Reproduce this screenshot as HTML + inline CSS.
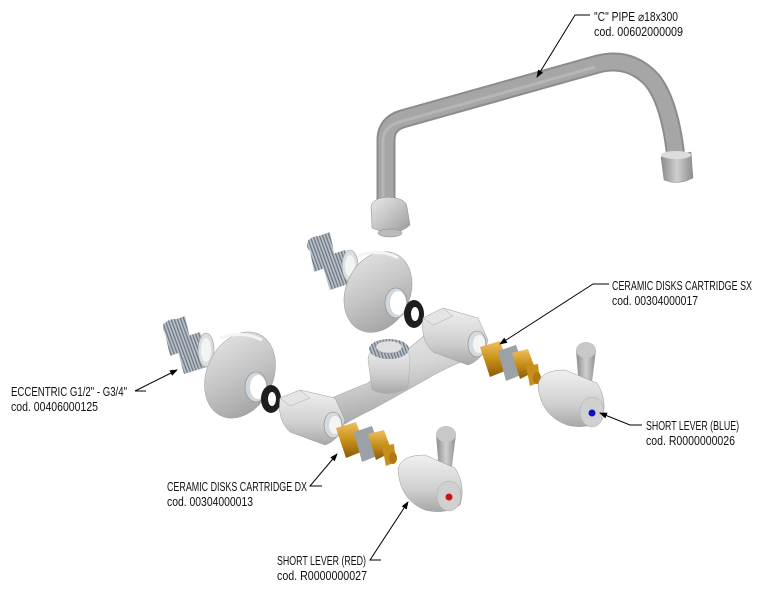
<!DOCTYPE html>
<html><head><meta charset="utf-8"><style>
html,body{margin:0;padding:0;background:#fff;}
svg{display:block}
text{font-family:"Liberation Sans",sans-serif;font-size:12.5px;fill:#111;}
</style></head><body>
<svg width="762" height="590" viewBox="0 0 762 590" xmlns="http://www.w3.org/2000/svg">
<defs>
<linearGradient id="pipeG" x1="0" y1="0" x2="1" y2="0">
<stop offset="0" stop-color="#8a8a8a"/><stop offset=".5" stop-color="#cfcfcf"/><stop offset="1" stop-color="#8e8e8e"/></linearGradient>
<linearGradient id="metal" x1="0" y1="0" x2="1" y2="1">
<stop offset="0" stop-color="#e8e8e8"/><stop offset=".5" stop-color="#c4c4c4"/><stop offset="1" stop-color="#9a9a9a"/></linearGradient>
<linearGradient id="body" x1="0" y1="0" x2="0" y2="1">
<stop offset="0" stop-color="#f0f0f0"/><stop offset=".6" stop-color="#d0d0d0"/><stop offset="1" stop-color="#a8a8a8"/></linearGradient>
<linearGradient id="bar" x1="0" y1="0" x2="0.3" y2="1">
<stop offset="0" stop-color="#eeeeee"/><stop offset=".5" stop-color="#d6d6d6"/><stop offset="1" stop-color="#a0a0a0"/></linearGradient>
<linearGradient id="brass" x1="0" y1="0" x2="0" y2="1">
<stop offset="0" stop-color="#f0c060"/><stop offset=".5" stop-color="#c8901a"/><stop offset="1" stop-color="#8a5a08"/></linearGradient>
<pattern id="thr" width="3" height="3" patternUnits="userSpaceOnUse" patternTransform="rotate(-20)">
<rect width="3" height="3" fill="#b8c0c8"/><rect width="1.2" height="3" fill="#6a7480"/></pattern>
<marker id="ar" markerWidth="8" markerHeight="6" refX="7" refY="3" orient="auto"><path d="M0,0 L8,3 L0,6z" fill="#000"/></marker>
</defs>

<!-- Pipe -->
<path d="M386,205 L386,140 Q386,124 402,119 L598,64 Q630,56 652,80 Q670,102 676,158" fill="none" stroke="#8c8c8c" stroke-width="19"/>
<path d="M386,205 L386,140 Q386,124 402,119 L598,64 Q630,56 652,80 Q670,102 676,158" fill="none" stroke="#a6a6a6" stroke-width="15"/>
<path d="M383,205 L383,140 Q384,127 399,122 L595,67" fill="none" stroke="#b6b6b6" stroke-width="3"/>
<path d="M661,157 L691,152 L693,178 Q678,186 664,180 Z" fill="url(#pipeG)" stroke="#888" stroke-width=".5"/>
<ellipse cx="676" cy="155" rx="15" ry="4" fill="#ddd"/>
<!-- nut -->
<path d="M371,207 Q372,198 388,197 Q406,198 407,207 L410,225 Q396,238 372,228 Z" fill="url(#metal)" stroke="#888" stroke-width=".5"/>
<ellipse cx="390" cy="233" rx="12" ry="4" fill="#bbb" stroke="#888" stroke-width=".5"/>

<!-- Upper eccentrics -->
<g>
<path d="M308,240 L330,232 L336,264 L314,272 Z" fill="url(#thr)"/>
<ellipse cx="319" cy="245" rx="12" ry="9" fill="url(#thr)"/>
<path d="M320,258 L345,250 L354,282 L330,290 Z" fill="url(#thr)"/>
<ellipse cx="350" cy="266" rx="8" ry="16" fill="#ddd" stroke="#999" stroke-width=".6"/>
<ellipse cx="350" cy="266" rx="5" ry="11" fill="#f4f4f4"/>
</g>
<!-- Upper escutcheon -->
<ellipse cx="378" cy="292" rx="32" ry="42" transform="rotate(25 378 292)" fill="url(#metal)" stroke="#999" stroke-width=".5"/>
<path d="M358,256 Q380,248 398,258" fill="none" stroke="#f4f4f4" stroke-width="3"/>
<ellipse cx="396" cy="303" rx="11" ry="15" fill="#cfd6dc" stroke="#888" stroke-width=".6"/>
<ellipse cx="398" cy="303" rx="8" ry="12" fill="#fff"/>
<!-- Upper gasket -->
<ellipse cx="414" cy="314" rx="10" ry="14" fill="#1e1e1e"/>
<ellipse cx="415" cy="314" rx="4" ry="7" fill="#fff"/>

<!-- Lower eccentrics -->
<g>
<path d="M163,324 L185,316 L192,348 L170,356 Z" fill="url(#thr)"/>
<ellipse cx="175" cy="328" rx="12" ry="9" fill="url(#thr)"/>
<path d="M175,340 L200,332 L210,366 L184,374 Z" fill="url(#thr)"/>
<ellipse cx="206" cy="350" rx="8" ry="17" fill="#ddd" stroke="#999" stroke-width=".6"/>
<ellipse cx="206" cy="350" rx="5" ry="12" fill="#f4f4f4"/>
</g>
<!-- Lower escutcheon -->
<ellipse cx="240" cy="375" rx="33" ry="45" transform="rotate(25 240 375)" fill="url(#metal)" stroke="#999" stroke-width=".5"/>
<path d="M220,338 Q242,330 262,340" fill="none" stroke="#f4f4f4" stroke-width="3"/>
<ellipse cx="256" cy="387" rx="11" ry="15" fill="#cfd6dc" stroke="#888" stroke-width=".6"/>
<ellipse cx="258" cy="387" rx="8" ry="12" fill="#fff"/>
<!-- Lower gasket -->
<ellipse cx="271" cy="399" rx="10" ry="14" fill="#1e1e1e"/>
<ellipse cx="272" cy="399" rx="4" ry="7" fill="#fff"/>

<!-- Body bar -->
<path d="M318,404 Q345,392 368,383 L425,335 Q445,322 462,330 L466,360 Q445,368 425,380 L375,408 Q350,420 332,432 Z" fill="url(#bar)" stroke="#a8a8a8" stroke-width=".6"/>
<path d="M368,360 Q368,346 389,344 Q410,346 410,360 L408,388 Q390,398 372,390 Z" fill="url(#body)" stroke="#aaa" stroke-width=".5"/>
<ellipse cx="389" cy="349" rx="20" ry="10" fill="url(#thr)"/>
<ellipse cx="389" cy="347" rx="13" ry="6" fill="#e0e0e0" stroke="#aaa" stroke-width=".5"/>
<!-- left end -->
<path d="M280,398 L300,390 L335,398 L345,420 Q340,440 325,445 L290,432 Q277,420 280,398 Z" fill="url(#body)" stroke="#999" stroke-width=".5"/>
<path d="M280,398 L300,390 L310,398 L290,406 Z" fill="#e4e4e4" stroke="#aaa" stroke-width=".5"/>
<ellipse cx="333" cy="425" rx="9" ry="13" fill="#d4dade" stroke="#888" stroke-width=".6"/>
<ellipse cx="335" cy="425" rx="6" ry="9" fill="#f4f4f4"/>
<!-- right end -->
<path d="M423,318 L443,308 L478,318 L488,340 Q483,360 468,365 L433,352 Q420,340 423,318 Z" fill="url(#body)" stroke="#999" stroke-width=".5"/>
<path d="M423,318 L443,308 L453,316 L433,325 Z" fill="#e4e4e4" stroke="#aaa" stroke-width=".5"/>
<ellipse cx="477" cy="344" rx="9" ry="13" fill="#d4dade" stroke="#888" stroke-width=".6"/>
<ellipse cx="479" cy="344" rx="6" ry="9" fill="#f4f4f4"/>

<!-- Cartridge DX -->
<g>
<path d="M336,428 L356,422 L366,450 L346,458 Z" fill="url(#brass)"/>
<path d="M354,432 L372,426 L382,454 L362,462 Z" fill="#9aa2a8"/>
<path d="M368,434 L384,430 L392,452 L376,460 Z" fill="url(#brass)"/>
<path d="M382,446 L394,444 L396,462 L386,466 Z" fill="#c8901a"/>
<ellipse cx="393" cy="458" rx="4" ry="6" fill="#b07a10"/>
</g>
<!-- Cartridge SX -->
<g>
<path d="M480,347 L500,341 L510,369 L490,377 Z" fill="url(#brass)"/>
<path d="M498,351 L516,345 L526,373 L506,381 Z" fill="#9aa2a8"/>
<path d="M512,353 L528,349 L536,371 L520,379 Z" fill="url(#brass)"/>
<path d="M526,366 L538,364 L540,382 L530,386 Z" fill="#c8901a"/>
<ellipse cx="537" cy="378" rx="4" ry="6" fill="#b07a10"/>
</g>

<!-- Lever red -->
<g>
<path d="M436,434 Q446,422 456,434 L450,482 L440,484 Z" fill="url(#pipeG)"/>
<ellipse cx="446" cy="434" rx="10" ry="8" fill="#c8c8c8"/>
<path d="M398,470 Q400,455 425,455 L455,468 Q466,485 460,505 Q445,515 425,510 Q400,500 398,470 Z" fill="url(#body)" stroke="#999" stroke-width=".5"/>
<ellipse cx="449" cy="496" rx="12" ry="15" fill="#d0d0d0" stroke="#aaa" stroke-width=".5"/>
<circle cx="449" cy="497" r="3.5" fill="#d01010"/>
</g>
<!-- Lever blue -->
<g>
<path d="M576,350 Q586,338 596,350 L590,398 L580,400 Z" fill="url(#pipeG)"/>
<ellipse cx="586" cy="350" rx="10" ry="8" fill="#c8c8c8"/>
<path d="M538,385 Q540,370 565,370 L597,383 Q608,400 602,420 Q587,430 567,425 Q540,415 538,385 Z" fill="url(#body)" stroke="#999" stroke-width=".5"/>
<ellipse cx="592" cy="412" rx="12" ry="15" fill="#d0d0d0" stroke="#aaa" stroke-width=".5"/>
<circle cx="592" cy="413" r="3.5" fill="#1010c0"/>
</g>

<!-- Leaders -->
<g fill="none" stroke="#000" stroke-width="1">
<path d="M590,15 L575,15 L537,77" marker-end="url(#ar)"/>
<path d="M609,284 L593,284 L500,344" marker-end="url(#ar)"/>
<path d="M146,391 L135,391 L177,370" marker-end="url(#ar)"/>
<path d="M642,425 L630,425 L600,413" marker-end="url(#ar)"/>
<path d="M322,486 L310,486 L337,454" marker-end="url(#ar)"/>
<path d="M381,560 L370,560 L408,502" marker-end="url(#ar)"/>
</g>

<!-- Labels -->
<text x="594" y="21" textLength="84" lengthAdjust="spacingAndGlyphs">"C" PIPE ⌀18x300</text>
<text x="594" y="36" textLength="89" lengthAdjust="spacingAndGlyphs">cod. 00602000009</text>
<text x="612" y="290" textLength="140" lengthAdjust="spacingAndGlyphs">CERAMIC DISKS CARTRIDGE SX</text>
<text x="612" y="305" textLength="86" lengthAdjust="spacingAndGlyphs">cod. 00304000017</text>
<text x="11" y="396" textLength="116" lengthAdjust="spacingAndGlyphs">ECCENTRIC G1/2" - G3/4"</text>
<text x="11" y="411" textLength="87" lengthAdjust="spacingAndGlyphs">cod. 00406000125</text>
<text x="646" y="430" textLength="93" lengthAdjust="spacingAndGlyphs">SHORT LEVER (BLUE)</text>
<text x="646" y="445" textLength="89" lengthAdjust="spacingAndGlyphs">cod. R0000000026</text>
<text x="167" y="491" textLength="140" lengthAdjust="spacingAndGlyphs">CERAMIC DISKS CARTRIDGE DX</text>
<text x="167" y="506" textLength="86" lengthAdjust="spacingAndGlyphs">cod. 00304000013</text>
<text x="277" y="565" textLength="89" lengthAdjust="spacingAndGlyphs">SHORT LEVER (RED)</text>
<text x="277" y="580" textLength="90" lengthAdjust="spacingAndGlyphs">cod. R0000000027</text>
</svg>
</body></html>
